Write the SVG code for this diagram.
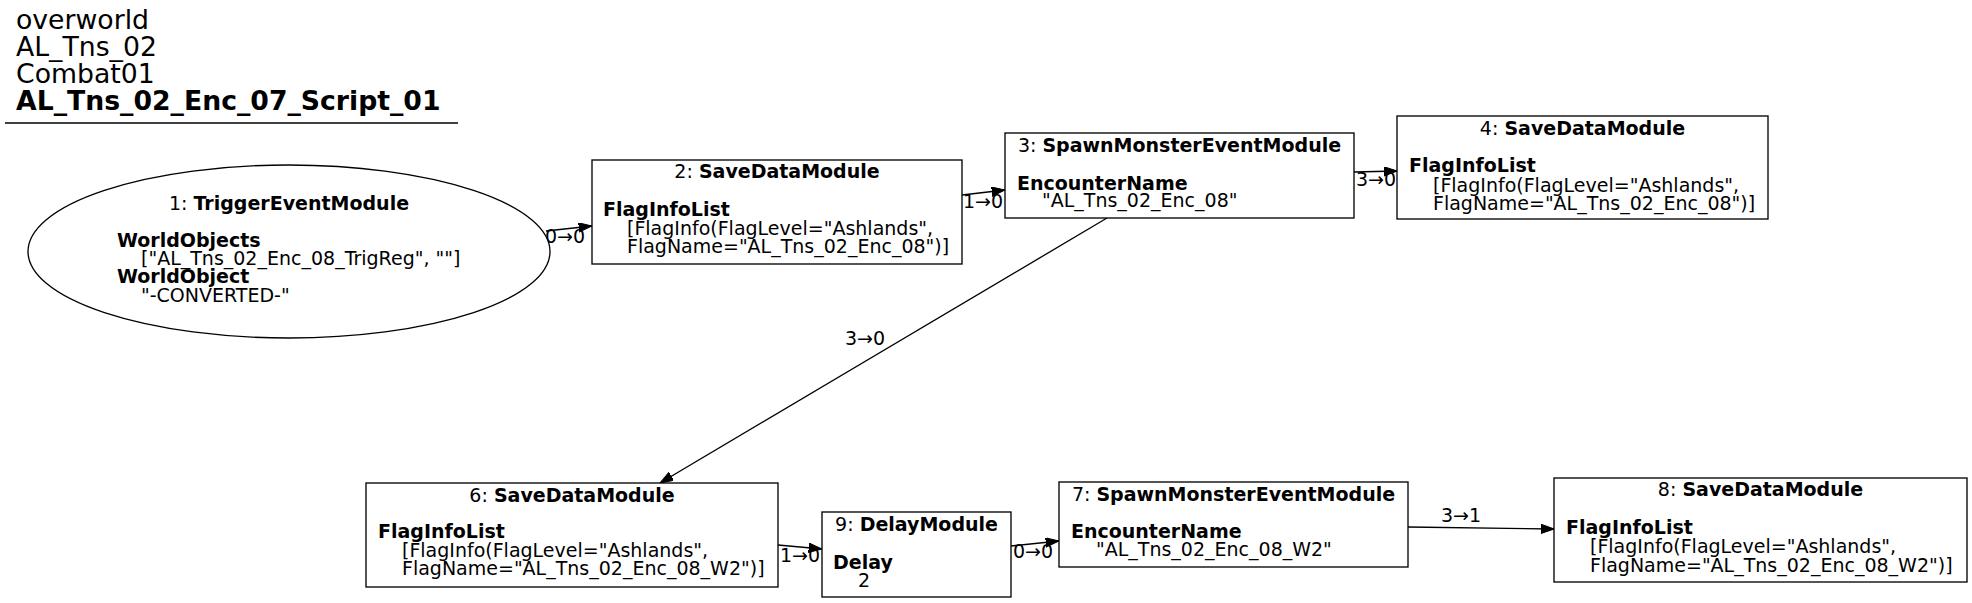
<svg xmlns="http://www.w3.org/2000/svg" width="1972" height="603" viewBox="0 0 1972 603">
<style>
text{font-family:"DejaVu Sans","Liberation Sans",sans-serif;font-size:19px;fill:#000}
.t{font-size:26.7px}
.b{font-weight:bold}
.c{text-anchor:middle}
.n{fill:#fff;stroke:#000;stroke-width:1.33}
.e{fill:none;stroke:#000;stroke-width:1.33}
</style>
<defs>
<marker id="ah" markerUnits="userSpaceOnUse" markerWidth="14" markerHeight="10" refX="13.3" refY="4.7" orient="auto">
<path d="M0,0 L13.3,4.7 L0,9.4 Z" fill="#000" stroke="#000" stroke-width="1"/>
</marker>
</defs>
<rect width="1972" height="603" fill="#fff"/>
<g id="title">
<text class="t" x="16" y="29">overworld</text>
<text class="t" x="16" y="56">AL_Tns_02</text>
<text class="t" x="16" y="83">Combat01</text>
<text class="t b" x="16" y="110">AL_Tns_02_Enc_07_Script_01</text>
<line x1="5" y1="123" x2="458" y2="123" stroke="#000" stroke-width="1.33"/>
</g>
<g id="edges">
<line class="e" x1="546" y1="231" x2="592" y2="226" marker-end="url(#ah)"/>
<text x="545" y="243">0→0</text>
<line class="e" x1="962" y1="195" x2="1005" y2="190" marker-end="url(#ah)"/>
<text x="963" y="208">1→0</text>
<line class="e" x1="1354" y1="172" x2="1397" y2="171" marker-end="url(#ah)"/>
<text x="1356" y="186">3→0</text>
<line class="e" x1="1107" y1="218" x2="660" y2="483" marker-end="url(#ah)"/>
<text x="845" y="345">3→0</text>
<line class="e" x1="778" y1="545" x2="822" y2="549" marker-end="url(#ah)"/>
<text x="780" y="562">1→0</text>
<line class="e" x1="1011" y1="546" x2="1059" y2="541" marker-end="url(#ah)"/>
<text x="1013" y="558">0→0</text>
<line class="e" x1="1408" y1="527" x2="1554" y2="529" marker-end="url(#ah)"/>
<text x="1441" y="522">3→1</text>
</g>
<g id="node1">
<ellipse class="n" cx="289" cy="251.5" rx="261" ry="86.5"/>
<text class="c" x="289" y="210">1: <tspan class="b">TriggerEventModule</tspan></text>
<text class="b" x="117" y="247">WorldObjects</text>
<text x="141" y="265">["AL_Tns_02_Enc_08_TrigReg", ""]</text>
<text class="b" x="117" y="283">WorldObject</text>
<text x="141" y="302">"-CONVERTED-"</text>
</g>
<g id="node2">
<rect class="n" x="592" y="160" width="370" height="104"/>
<text class="c" x="777" y="178">2: <tspan class="b">SaveDataModule</tspan></text>
<text class="b" x="603" y="216">FlagInfoList</text>
<text x="627" y="235">[FlagInfo(FlagLevel="Ashlands",</text>
<text x="627" y="253">FlagName="AL_Tns_02_Enc_08")]</text>
</g>
<g id="node3">
<rect class="n" x="1005" y="133" width="349" height="85"/>
<text class="c" x="1179.5" y="152">3: <tspan class="b">SpawnMonsterEventModule</tspan></text>
<text class="b" x="1017" y="190">EncounterName</text>
<text x="1042" y="207">"AL_Tns_02_Enc_08"</text>
</g>
<g id="node4">
<rect class="n" x="1397" y="116" width="371" height="103"/>
<text class="c" x="1582.5" y="135">4: <tspan class="b">SaveDataModule</tspan></text>
<text class="b" x="1409" y="172">FlagInfoList</text>
<text x="1433" y="192">[FlagInfo(FlagLevel="Ashlands",</text>
<text x="1433" y="210">FlagName="AL_Tns_02_Enc_08")]</text>
</g>
<g id="node6">
<rect class="n" x="366" y="483" width="412" height="104"/>
<text class="c" x="572" y="502">6: <tspan class="b">SaveDataModule</tspan></text>
<text class="b" x="378" y="538">FlagInfoList</text>
<text x="402" y="557">[FlagInfo(FlagLevel="Ashlands",</text>
<text x="402" y="575">FlagName="AL_Tns_02_Enc_08_W2")]</text>
</g>
<g id="node9">
<rect class="n" x="822" y="512" width="189" height="85"/>
<text class="c" x="916.5" y="531">9: <tspan class="b">DelayModule</tspan></text>
<text class="b" x="833" y="569">Delay</text>
<text x="858" y="587">2</text>
</g>
<g id="node7">
<rect class="n" x="1059" y="482" width="349" height="85"/>
<text class="c" x="1233.5" y="501">7: <tspan class="b">SpawnMonsterEventModule</tspan></text>
<text class="b" x="1071" y="538">EncounterName</text>
<text x="1096" y="556">"AL_Tns_02_Enc_08_W2"</text>
</g>
<g id="node8">
<rect class="n" x="1554" y="478" width="413" height="104"/>
<text class="c" x="1760.5" y="496">8: <tspan class="b">SaveDataModule</tspan></text>
<text class="b" x="1566" y="534">FlagInfoList</text>
<text x="1590" y="553">[FlagInfo(FlagLevel="Ashlands",</text>
<text x="1590" y="572">FlagName="AL_Tns_02_Enc_08_W2")]</text>
</g>
</svg>
